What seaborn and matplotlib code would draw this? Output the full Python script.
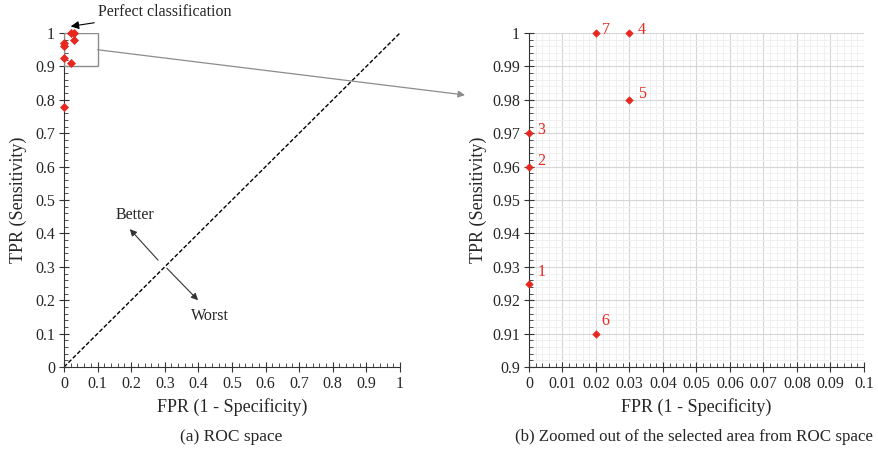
import numpy as np
import pandas as pd
import seaborn as sns
import matplotlib
matplotlib.use("Agg")
from matplotlib import pyplot as plt
from matplotlib.ticker import MultipleLocator
from matplotlib.patches import Rectangle

# classifiers in ROC space
fpr_all = [0.0, 0.0, 0.0, 0.03, 0.03, 0.02, 0.02, 0.0]
tpr_all = [0.925, 0.96, 0.97, 1.0, 0.98, 0.91, 1.0, 0.78]

# classifiers inside the zoomed window
point_ids = ["1", "2", "3", "4", "5", "6", "7"]
fpr_zoom = [0.0, 0.0, 0.0, 0.03, 0.03, 0.02, 0.02]
tpr_zoom = [0.925, 0.96, 0.97, 1.0, 0.98, 0.91, 1.0]
# label offsets (points) for the numbers next to each marker
label_dx = [9, 9, 9, 9, 9, 7, 7]
label_dy = [8, 4, 2, 2, 4, 9, 2]

diag = [0, 1]

df_all = pd.DataFrame({"FPR": fpr_all, "TPR": tpr_all})
df_zoom = pd.DataFrame({"id": point_ids, "FPR": fpr_zoom, "TPR": tpr_zoom})

sns.set_style("white")
plt.rcParams["font.family"] = ["Liberation Serif", "DejaVu Serif"]
plt.rcParams["font.size"] = 11

fig = plt.figure(figsize=(8.79, 4.59), dpi=100)
ax1 = fig.add_axes([0.0728, 0.2004, 0.3822, 0.7276])
ax2 = fig.add_axes([0.6018, 0.2004, 0.3811, 0.7276])

red = "#e8271f"

# ---- (a) ROC space
sns.lineplot(x=diag, y=diag, ax=ax1, color="black", linestyle=(0, (3, 1.5)), lw=1)
sns.scatterplot(data=df_all, x="FPR", y="TPR", ax=ax1, color=red, marker="D",
                s=16, edgecolor=red, linewidth=0.6, zorder=5, clip_on=False)
ax1.add_patch(Rectangle((0, 0.9), 0.1, 0.1, fill=False, edgecolor="#8c8c8c", lw=1, zorder=4))

ax1.annotate("Perfect classification", xy=(0.02, 1.02), xytext=(0.1, 1.063),
             xycoords="data", textcoords="data", fontsize=11.5, va="center",
             annotation_clip=False,
             arrowprops=dict(arrowstyle="-|>", color="black", lw=0.8, mutation_scale=12,
                             shrinkA=0, shrinkB=0))
ax1.annotate("", xy=(0.196, 0.413), xytext=(0.28, 0.32),
             arrowprops=dict(arrowstyle="-|>", color="#333333", lw=0.8, mutation_scale=10,
                             shrinkA=0, shrinkB=0))
ax1.annotate("", xy=(0.399, 0.2), xytext=(0.306, 0.296),
             arrowprops=dict(arrowstyle="-|>", color="#333333", lw=0.8, mutation_scale=10,
                             shrinkA=0, shrinkB=0))
ax1.text(0.21, 0.455, "Better", ha="center", va="center", fontsize=11.5)
ax1.text(0.435, 0.153, "Worst", ha="center", va="center", fontsize=11.5)

ax1.set_xlim(0, 1)
ax1.set_ylim(0, 1)
ax1.xaxis.set_minor_locator(MultipleLocator(0.02))
ax1.yaxis.set_minor_locator(MultipleLocator(0.02))
ax1.set_xticks(np.arange(0, 1.01, 0.1))
ax1.set_xticklabels(["0", "0.1", "0.2", "0.3", "0.4", "0.5", "0.6", "0.7", "0.8", "0.9", "1"])
ax1.set_yticks(np.arange(0, 1.01, 0.1))
ax1.set_yticklabels(["0", "0.1", "0.2", "0.3", "0.4", "0.5", "0.6", "0.7", "0.8", "0.9", "1"])
ax1.set_xlabel("FPR (1 - Specificity)", fontsize=13)
ax1.set_ylabel("TPR (Sensitivity)", fontsize=13, labelpad=6)

# ---- (b) zoomed window
ax2.set_xlim(0, 0.1)
ax2.set_ylim(0.9, 1.0)
ax2.xaxis.set_minor_locator(MultipleLocator(0.002))
ax2.yaxis.set_minor_locator(MultipleLocator(0.002))
ax2.grid(which="major", color="#d6d6d6", lw=0.8)
ax2.grid(which="minor", color="#eeeeee", lw=0.6)
ax2.set_axisbelow(True)
sns.scatterplot(data=df_zoom, x="FPR", y="TPR", ax=ax2, color=red, marker="D",
                s=14, edgecolor=red, linewidth=0.5, zorder=5, clip_on=False)
for i, r in df_zoom.iterrows():
    ax2.annotate(r["id"], (r["FPR"], r["TPR"]), xytext=(label_dx[i], label_dy[i]),
                 textcoords="offset points", color=red, fontsize=11.5,
                 ha="center", va="center", annotation_clip=False)
ax2.set_xticks(np.arange(0, 0.1001, 0.01))
ax2.set_xticklabels(["0", "0.01", "0.02", "0.03", "0.04", "0.05", "0.06", "0.07", "0.08", "0.09", "0.1"])
ax2.set_yticks(np.arange(0.9, 1.0001, 0.01))
ax2.set_yticklabels(["0.9", "0.91", "0.92", "0.93", "0.94", "0.95", "0.96", "0.97", "0.98", "0.99", "1"])
ax2.set_xlabel("FPR (1 - Specificity)", fontsize=13)
ax2.set_ylabel("TPR (Sensitivity)", fontsize=13)

for ax in (ax1, ax2):
    sns.despine(ax=ax)
    ax.spines["left"].set_color("#333333")
    ax.spines["bottom"].set_color("#333333")
    ax.tick_params(which="major", direction="inout", length=7, width=0.8, color="#333333",
                   labelsize=11.5, left=True, bottom=True, pad=3)
    ax.tick_params(which="minor", direction="in", length=3, width=0.6, color="#333333",
                   left=True, bottom=True)

# connector from the selected box to the zoomed panel
ax1.annotate("", xy=(465 / 879, 1 - 95 / 459), xycoords="figure fraction",
             xytext=(0.1, 0.95), textcoords="data", annotation_clip=False,
             arrowprops=dict(arrowstyle="-|>", color="#8c8c8c", lw=0.9, mutation_scale=10,
                             shrinkA=0, shrinkB=0))

fig.text(231 / 879, 1 - 437 / 459, "(a) ROC space", ha="center", va="center", fontsize=12.5)
fig.text(694 / 879, 1 - 437 / 459, "(b) Zoomed out of the selected area from ROC space",
         ha="center", va="center", fontsize=12.2)

fig.savefig("out.png", dpi=100)
